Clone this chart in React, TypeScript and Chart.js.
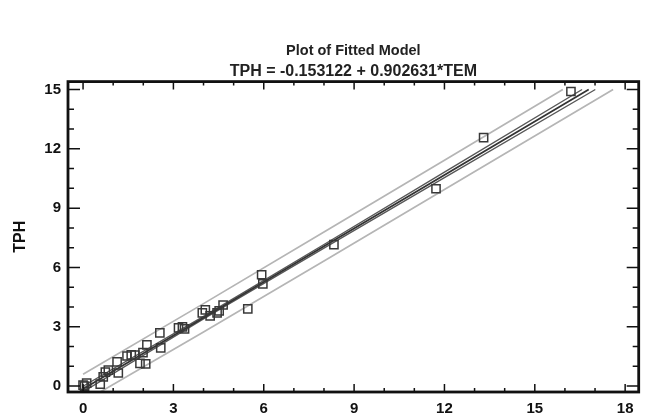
import { useEffect, useRef } from "react";
import { Chart, registerables } from "chart.js";

Chart.register(...registerables);

// Observed data (TEM, TPH)
const temValues = [0.0, 0.05, 0.12, 0.57, 0.67, 0.74, 0.84, 1.13, 1.17, 1.46, 1.6, 1.72, 1.89, 1.99, 2.08, 2.12, 2.55, 2.58, 3.17, 3.3, 3.37, 3.96, 4.06, 4.22, 4.45, 4.52, 4.65, 5.47, 5.93, 5.97, 8.33, 11.72, 13.3, 16.2];
const tphValues = [0.05, 0.0, 0.15, 0.1, 0.46, 0.71, 0.81, 1.22, 0.66, 1.52, 1.58, 1.57, 1.15, 1.69, 1.12, 2.08, 2.69, 1.93, 2.94, 2.99, 2.89, 3.7, 3.85, 3.55, 3.7, 3.8, 4.1, 3.9, 5.63, 5.17, 7.15, 9.98, 12.57, 14.9];

// Fitted line and limits
const fitX = [0, 4, 8, 12, 16.79];
const fitY = [-0.15, 3.46, 7.07, 10.68, 15.0];
const upperConfX = [0, 4, 8, 12, 16.57];
const upperConfY = [-0.01, 3.52, 7.16, 10.82, 15.0];
const lowerConfX = [0, 4, 8, 12, 17.01];
const lowerConfY = [-0.29, 3.4, 6.98, 10.54, 15.0];
const upperPredX = [0, 4, 8, 12, 15.93];
const upperPredY = [0.6, 4.17, 7.79, 11.42, 15.0];
const lowerPredX = [0.57, 4, 8, 12, 17.6];
const lowerPredY = [-0.3, 2.73, 6.33, 9.94, 15.0];

const xTickValues = [0, 1, 2, 3, 4, 5, 6, 7, 8, 9, 10, 11, 12, 13, 14, 15, 16, 17, 18];
const yTickValues = [0, 1, 2, 3, 4, 5, 6, 7, 8, 9, 10, 11, 12, 13, 14, 15];
const xLabelStep = 3;
const yLabelStep = 3;

const titleText = "Plot of Fitted Model";
const subtitleText = "TPH = -0.153122 + 0.902631*TEM";
const yAxisTitle = "TPH";

const FONT = "'Liberation Sans', Arial, sans-serif";

const pairs = (xs: number[], ys: number[]) => xs.map((x, i) => ({ x, y: ys[i] }));

const framePlugin = {
  id: "frameTicks",
  afterDraw(chart: any) {
    const { ctx, chartArea } = chart;
    const { left, right, top, bottom } = chartArea;
    const xs = chart.scales.x;
    const ys = chart.scales.y;
    ctx.save();
    ctx.strokeStyle = "#111";
    ctx.lineWidth = 1.5;
    ctx.beginPath();
    xTickValues.forEach((v) => {
      const px = xs.getPixelForValue(v);
      const len = v % xLabelStep === 0 ? 8 : 4;
      ctx.moveTo(px, bottom);
      ctx.lineTo(px, bottom - len);
      ctx.moveTo(px, top);
      ctx.lineTo(px, top + len);
    });
    yTickValues.forEach((v) => {
      const py = ys.getPixelForValue(v);
      const len = v % yLabelStep === 0 ? 12 : 6;
      ctx.moveTo(left, py);
      ctx.lineTo(left + len, py);
      ctx.moveTo(right, py);
      ctx.lineTo(right - len, py);
    });
    ctx.stroke();
    ctx.lineWidth = 2.8;
    ctx.strokeRect(left, top, right - left, bottom - top);
    ctx.restore();
  },
};

export default function App() {
  const ref = useRef<HTMLCanvasElement | null>(null);

  useEffect(() => {
    if (!ref.current) return;
    const lineDs = (label: string, xs: number[], ys: number[], color: string, width: number) => ({
      label,
      data: pairs(xs, ys),
      showLine: true,
      borderColor: color,
      borderWidth: width,
      pointRadius: 0,
      fill: false,
      tension: 0,
    });
    const chart = new Chart(ref.current, {
      type: "scatter",
      data: {
        datasets: [
          {
            label: "Observed",
            data: pairs(temValues, tphValues),
            pointStyle: "rect",
            pointRadius: 5.8,
            pointBorderColor: "#383838",
            pointBackgroundColor: "rgba(255,255,255,0)",
            pointBorderWidth: 1.5,
            showLine: false,
          } as any,
          lineDs("Fitted", fitX, fitY, "#333333", 1.8),
          lineDs("Upper conf", upperConfX, upperConfY, "#585858", 1.4),
          lineDs("Lower conf", lowerConfX, lowerConfY, "#585858", 1.4),
          lineDs("Upper pred", upperPredX, upperPredY, "#b5b5b5", 1.7),
          lineDs("Lower pred", lowerPredX, lowerPredY, "#b5b5b5", 1.7),
        ],
      },
      options: {
        animation: false,
        responsive: false,
        layout: { padding: { left: 0, right: 2, top: 0, bottom: 0 } },
        plugins: {
          legend: { display: false },
          tooltip: { enabled: false },
          title: {
            display: true,
            text: titleText,
            fullSize: false,
            color: "#222",
            font: { family: FONT, size: 14.5, weight: "bold", lineHeight: 1.2 },
            padding: { top: 42, bottom: 0 },
          },
          subtitle: {
            display: true,
            text: subtitleText,
            fullSize: false,
            color: "#222",
            font: { family: FONT, size: 16, weight: "bold", lineHeight: 1.2 },
            padding: { top: 3, bottom: 0 },
          },
        },
        scales: {
          x: {
            type: "linear",
            min: -0.5,
            max: 18.45,
            grid: { display: false, drawTicks: false },
            border: { display: false },
            afterBuildTicks: (s: any) => {
              s.ticks = xTickValues.map((v) => ({ value: v }));
            },
            afterFit: (s: any) => {
              s.height = 24;
            },
            ticks: {
              autoSkip: false,
              maxRotation: 0,
              padding: 8,
              color: "#111",
              font: { family: FONT, size: 15, weight: "bold" },
              callback: (v: any) => (Number(v) % xLabelStep === 0 ? String(v) : ""),
            },
          },
          y: {
            type: "linear",
            min: -0.3,
            max: 15.4,
            grid: { display: false, drawTicks: false },
            border: { display: false },
            afterBuildTicks: (s: any) => {
              s.ticks = yTickValues.map((v) => ({ value: v }));
            },
            afterFit: (s: any) => {
              s.width = 68;
            },
            title: {
              display: true,
              text: yAxisTitle,
              color: "#111",
              font: { family: FONT, size: 16, weight: "bold" },
              padding: { top: 11, bottom: 0 },
            },
            ticks: {
              autoSkip: false,
              padding: 7,
              color: "#111",
              font: { family: FONT, size: 15, weight: "bold" },
              callback: (v: any) => (Number(v) % yLabelStep === 0 ? String(v) : ""),
            },
          },
        },
      },
      plugins: [framePlugin],
    } as any);
    return () => chart.destroy();
  }, []);

  return (
    <div style={{ position: "absolute", left: 0, top: 0, width: 646, height: 416, background: "#fff" }}>
      <canvas ref={ref} width={646} height={416} />
    </div>
  );
}
